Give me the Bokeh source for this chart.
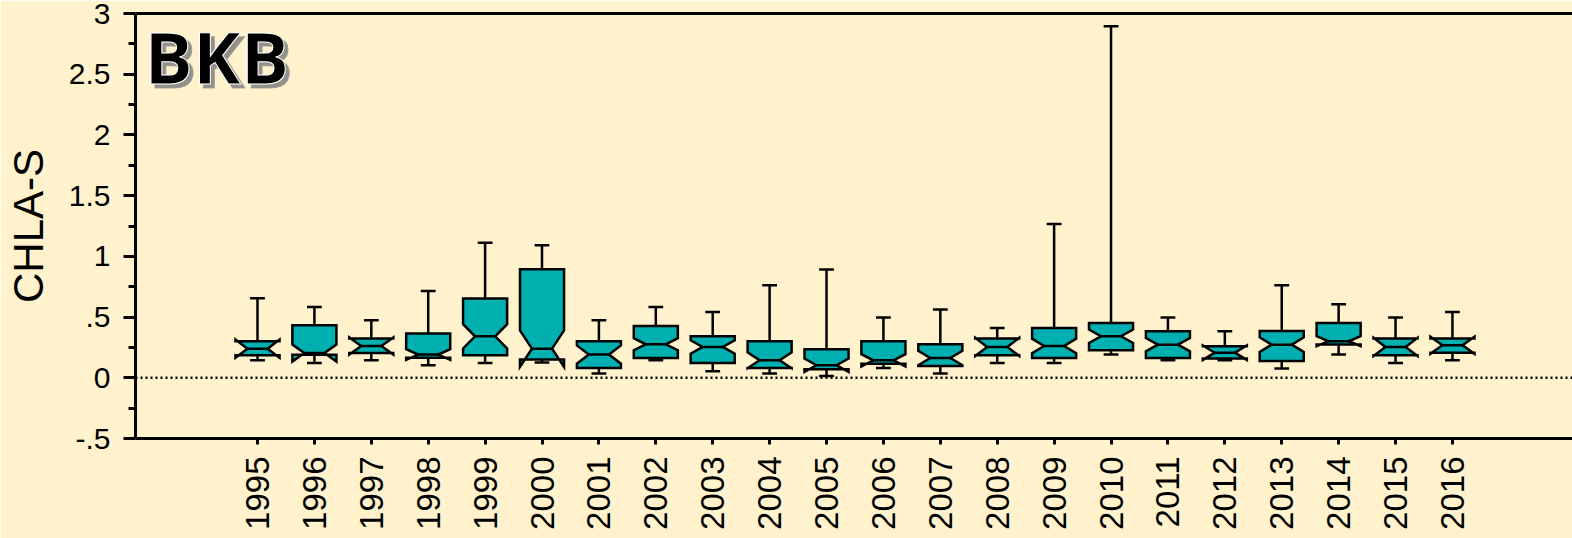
import numpy as np
from bokeh.plotting import figure
from bokeh.models import (Range1d, LinearAxis, FixedTicker, CustomJSTickFormatter,
                          Span, Label)
from bokeh.embed import file_html
from bokeh.resources import INLINE

# ---------------- data ----------------
years = [1995, 1996, 1997, 1998, 1999, 2000, 2001, 2002, 2003, 2004, 2005,
         2006, 2007, 2008, 2009, 2010, 2011, 2012, 2013, 2014, 2015, 2016]
whisker_hi = [0.655, 0.583, 0.474, 0.715, 1.113, 1.091, 0.474, 0.583, 0.542, 0.762, 0.891,
              0.496, 0.562, 0.410, 1.267, 2.895, 0.496, 0.383, 0.762, 0.605, 0.496, 0.542]
q3 = [0.300, 0.432, 0.323, 0.364, 0.652, 0.894, 0.301, 0.427, 0.342, 0.301, 0.235,
      0.301, 0.276, 0.323, 0.410, 0.451, 0.383, 0.259, 0.385, 0.451, 0.323, 0.323]
median = [0.240, 0.204, 0.262, 0.191, 0.342, 0.240, 0.191, 0.276, 0.254, 0.144, 0.103,
          0.144, 0.163, 0.254, 0.262, 0.342, 0.273, 0.207, 0.273, 0.301, 0.254, 0.268]
q1 = [0.185, 0.190, 0.204, 0.165, 0.185, 0.150, 0.081, 0.163, 0.122, 0.081, 0.070,
      0.115, 0.097, 0.185, 0.163, 0.227, 0.163, 0.158, 0.138, 0.275, 0.185, 0.207]
whisker_lo = [0.144, 0.122, 0.144, 0.103, 0.122, 0.125, 0.035, 0.144, 0.054, 0.035, 0.015,
              0.081, 0.035, 0.122, 0.122, 0.191, 0.144, 0.144, 0.076, 0.191, 0.122, 0.144]
notch = [0.075, 0.070, 0.070, 0.044, 0.100, 0.150, 0.075, 0.050, 0.055, 0.065, 0.055,
         0.050, 0.060, 0.075, 0.060, 0.055, 0.055, 0.060, 0.060, 0.041, 0.075, 0.070]

y_ticks = [-0.5, 0, 0.5, 1, 1.5, 2, 2.5, 3]
y_tick_labels = ["-.5", "0", ".5", "1", "1.5", "2", "2.5", "3"]
y_title = "CHLA-S"
site = "BKB"

# ---------------- style ----------------
BG = "#FFF2CC"
TEAL = "#00B0B0"
FONT = "Liberation Sans"
HW = 0.387      # box half width (x units)
IND = 0.21      # notch indent
CAP = 0.13      # whisker cap half width
Y0, Y1 = -0.5, 3.0

p = figure(width=1572, height=538,
           x_range=Range1d(1992.856, 2018.11), y_range=Range1d(Y0, Y1),
           output_backend="svg", toolbar_location=None,
           min_border_left=135, min_border_right=0, min_border_top=13, min_border_bottom=100)
p.background_fill_color = BG
p.border_fill_color = BG
p.outline_line_color = None
p.grid.visible = False

# x axis
xa = p.xaxis[0]
xa.ticker = FixedTicker(ticks=years)
xa.major_label_orientation = np.pi / 2
xa.axis_line_width = 3
xa.major_tick_out = 6
xa.major_tick_in = 0
xa.major_tick_line_width = 3
xa.minor_tick_out = 0
xa.major_label_text_font = FONT
xa.major_label_text_font_size = "33px"
xa.major_label_text_color = "black"
xa.major_label_standoff = 12

# y axis
lab_map = {str(v): t for v, t in zip(y_ticks, y_tick_labels)}
minor = [(a + b) / 2 for a, b in zip(y_ticks[:-1], y_ticks[1:])]
ya = p.yaxis[0]
ya.ticker = FixedTicker(ticks=y_ticks, minor_ticks=minor)
ya.formatter = CustomJSTickFormatter(args=dict(m=lab_map), code="return m[String(tick)];")
ya.axis_line_width = 3
ya.major_tick_out = 12
ya.major_tick_in = 0
ya.major_tick_line_width = 3
ya.minor_tick_out = 7
ya.minor_tick_in = 0
ya.minor_tick_line_width = 3
ya.major_label_text_font = FONT
ya.major_label_text_font_size = "30px"
ya.major_label_text_color = "black"
ya.major_label_standoff = 13
ya.axis_label = y_title
ya.axis_label_text_font = FONT
ya.axis_label_text_font_size = "42px"
ya.axis_label_text_font_style = "normal"
ya.axis_label_text_color = "black"
ya.axis_label_standoff = 14

# top border line
top = LinearAxis(ticker=FixedTicker(ticks=[]), axis_line_width=3,
                 major_tick_out=0, minor_tick_out=0,
                 major_label_text_font_size="0px")
p.add_layout(top, "above")

# zero reference line
p.add_layout(Span(location=0, dimension="width", line_color="black",
                  line_width=2.5, line_dash="2 3"))

# whiskers and caps
p.segment(x0=years, y0=whisker_lo, x1=years, y1=whisker_hi, line_color="black", line_width=2.5)
xl = [x - CAP for x in years]
xr = [x + CAP for x in years]
p.segment(x0=xl, y0=whisker_hi, x1=xr, y1=whisker_hi, line_color="black", line_width=2.5)
p.segment(x0=xl, y0=whisker_lo, x1=xr, y1=whisker_lo, line_color="black", line_width=2.5)

# notched boxes
xs, ys = [], []
for x, a, m, b, c in zip(years, q1, median, q3, notch):
    L, R = x - HW, x + HW
    nh, nl = m + c, m - c
    xs.append([L, R, R, R - IND, R, R, L, L, L + IND, L])
    ys.append([b, b, nh, m, nl, a, a, nl, m, nh])
p.patches(xs, ys, fill_color=TEAL, line_color="black", line_width=2.5, line_join="miter")
p.segment(x0=[x - HW + IND for x in years], y0=median,
          x1=[x + HW - IND for x in years], y1=median, line_color="black", line_width=2.5)

# site label: shadow, then outlined text
p.add_layout(Label(x=9, y=Y1, x_units="screen", y_units="data", text=site,
                   text_font="Open Sans", text_font_style="bold", text_font_size="72px",
                   text_color="#777777", text_outline_color="#999999", text_alpha=0.8,
                   text_baseline="alphabetic", x_offset=4, y_offset=-46))
p.add_layout(Label(x=9, y=Y1, x_units="screen", y_units="data", text=site,
                   text_font="Open Sans", text_font_style="bold", text_font_size="72px",
                   text_color="black", text_outline_color="white",
                   text_baseline="alphabetic", y_offset=-42))

open("out.html", "w").write(file_html(p, INLINE))
